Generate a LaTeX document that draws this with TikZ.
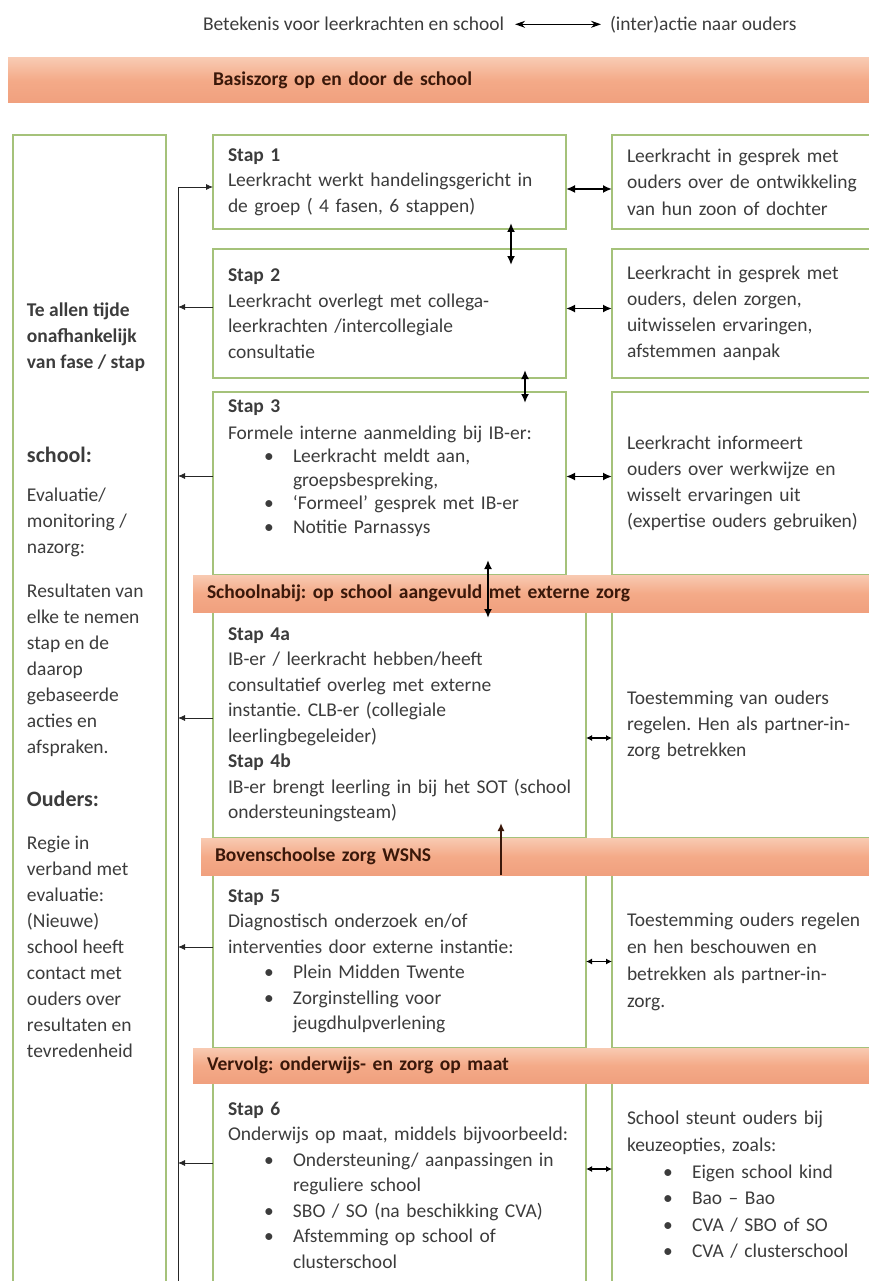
\documentclass[tikz,border=0pt]{standalone}
\usepackage{fontspec}
\setmainfont{Carlito}
\usepackage{xcolor}
\usetikzlibrary{positioning,arrows.meta}
\frenchspacing

\definecolor{groen}{RGB}{165,194,122}
\definecolor{bandlicht}{RGB}{248,202,178}
\definecolor{bandmidden}{RGB}{244,170,136}
\definecolor{banddonker}{RGB}{240,160,126}
\definecolor{bandtekst}{RGB}{58,24,10}
\definecolor{tekst}{RGB}{60,60,60}

\newcommand{\boxfont}{\fontsize{19.5pt}{25.5pt}\selectfont}
\newcommand{\itm}[1]{\hspace*{36pt}\makebox[29pt][l]{\textbullet}#1}
\newcommand{\itc}[1]{\hspace*{65pt}#1}

\begin{document}
\begin{tikzpicture}[
            x=1pt, y=-1pt,
            every node/.style={inner sep=0pt, outer sep=0pt, text=tekst},
            vak/.style={draw=groen, line width=1.3pt, anchor=north west, align=left, inner xsep=15pt, font=\boxfont},
            balk/.style={anchor=north west, align=left, top color=bandlicht, bottom color=banddonker, middle color=bandmidden, text=bandtekst, font=\boxfont\bfseries, inner xsep=14pt},
            dubbel/.style={{Latex[length=9pt,width=8pt]}-{Latex[length=9pt,width=8pt]}, line width=1.8pt},
            kort/.style={{Latex[length=6pt,width=6pt]}-{Latex[length=6pt,width=6pt]}, line width=1.5pt},
            terug/.style={-{Latex[length=7pt,width=6pt]}, line width=0.8pt, draw=black!85},
            omhoog/.style={-{Latex[length=8pt,width=7pt]}, line width=1.8pt, draw=bandtekst}
        ]
        \useasboundingbox (0,0) rectangle (869,1281);
        \clip (0,0) rectangle (869,1281);

        % Legenda
        \node[font=\boxfont, anchor=base west] (kop1) at (203,31) {Betekenis voor leerkrachten en school};
        \node[font=\boxfont, anchor=base west] (kop2) at (610,31) {(inter)actie naar ouders};
        \draw[{Stealth[length=10pt,width=7pt]}-{Stealth[length=10pt,width=7pt]}, line width=1.1pt, shorten <=11pt, shorten >=9pt] (kop1.east) -- (kop1.east -| kop2.west);

        % Basiszorg
        \node[balk, minimum width=880pt, minimum height=45pt, text width=470pt, inner xsep=205pt] (b1) at (8,58) {Basiszorg op en door de school};

        % Links
        \node[vak, minimum width=153pt, minimum height=1160pt] (links) at (13,135) {};
        \node[anchor=north west, align=left, font=\fontsize{19.5pt}{26pt}\selectfont] (linkstekst) at (27,303) {%
            \textbf{Te allen tijde}\\
            \textbf{onafhankelijk}\\
            \textbf{van fase / stap}\\[68pt]
            {\fontsize{22pt}{26pt}\selectfont\bfseries school:}\\[13pt]
            Evaluatie/\\
            monitoring /\\
            nazorg:\\[18pt]
            Resultaten van\\
            elke te nemen\\
            stap en de\\
            daarop\\
            gebaseerde\\
            acties en\\
            afspraken.\\[27pt]
            {\fontsize{22pt}{26pt}\selectfont\bfseries Ouders:}\\[17pt]
            Regie in\\
            verband met\\
            evaluatie:\\
            (Nieuwe)\\
            school heeft\\
            contact met\\
            ouders over\\
            resultaten en\\
            tevredenheid};

        % Stappen
        \node[vak, minimum width=353pt, minimum height=94pt, text width=323pt] (s1) at (213,135) {%
            \textbf{Stap 1}\\
            Leerkracht werkt handelingsgericht in\\
            de groep ( 4 fasen, 6 stappen)};
        \node[vak, minimum width=353pt, minimum height=129pt, text width=323pt, below=20pt of s1] (s2) {%
            \textbf{Stap 2}\\
            Leerkracht overlegt met collega-\\
            leerkrachten /intercollegiale\\
            consultatie};
        \node[vak, minimum width=353pt, minimum height=183pt, text width=323pt, below=14pt of s2, font=\fontsize{19.5pt}{23.5pt}\selectfont] (s3) {%
            \textbf{Stap 3}\\[3pt]
            Formele interne aanmelding bij IB-er:\\
            \itm{Leerkracht meldt aan,}\\
            \itc{groepsbespreking,}\\
            \itm{‘Formeel’ gesprek met IB-er}\\
            \itm{Notitie Parnassys}\rule[-34pt]{0pt}{0pt}};
        \node[vak, minimum width=373pt, minimum height=226pt, text width=343pt] (s4) at (213,612) {%
            \textbf{Stap 4a}\\
            IB-er / leerkracht hebben/heeft\\
            consultatief overleg met externe\\
            instantie. CLB-er (collegiale\\
            leerlingbegeleider)\\
            \textbf{Stap 4b}\\
            \mbox{IB-er brengt leerling in bij het SOT (school}\\
            ondersteuningsteam)};
        \node[vak, minimum width=373pt, minimum height=173pt, text width=343pt] (s5) at (213,875) {%
            \textbf{Stap 5}\\
            Diagnostisch onderzoek en/of\\
            interventies door externe instantie:\\
            \itm{Plein Midden Twente}\\
            \itm{Zorginstelling voor}\\
            \itc{jeugdhulpverlening}};
        \node[vak, minimum width=373pt, minimum height=204pt, text width=343pt] (s6) at (213,1083) {%
            \textbf{Stap 6}\\
            Onderwijs op maat, middels bijvoorbeeld:\\
            \itm{Ondersteuning/ aanpassingen in}\\
            \itc{reguliere school}\\
            \itm{SBO / SO (na beschikking CVA)}\\
            \itm{Afstemming op school of}\\
            \itc{clusterschool}};

        % Ouders
        \node[vak, minimum width=270pt, minimum height=94pt, text width=240pt, right=46pt of s1, font=\fontsize{19.5pt}{26.5pt}\selectfont] (r1) {%
            Leerkracht in gesprek met\\
            ouders over de ontwikkeling\\
            van hun zoon of dochter};
        \node[vak, minimum width=270pt, minimum height=129pt, text width=240pt, right=46pt of s2, font=\fontsize{19.5pt}{26pt}\selectfont] (r2) {%
            Leerkracht in gesprek met\\
            ouders, delen zorgen,\\
            uitwisselen ervaringen,\\
            afstemmen aanpak};
        \node[vak, minimum width=270pt, minimum height=183pt, text width=240pt, right=46pt of s3, font=\fontsize{19.5pt}{26pt}\selectfont] (r3) {%
            Leerkracht informeert\\
            ouders over werkwijze en\\
            wisselt ervaringen uit\\
            (expertise ouders gebruiken)};
        \node[vak, minimum width=270pt, minimum height=226pt, text width=240pt, right=26pt of s4, font=\fontsize{19.5pt}{26pt}\selectfont] (r4) {%
            Toestemming van ouders\\
            regelen. Hen als partner-in-\\
            zorg betrekken};
        \node[vak, minimum width=270pt, minimum height=173pt, text width=240pt, right=26pt of s5, font=\fontsize{19.5pt}{27pt}\selectfont] (r5) {%
            Toestemming ouders regelen\\
            en hen beschouwen en\\
            betrekken als partner-in-\\
            zorg.};
        \node[vak, minimum width=270pt, minimum height=204pt, text width=240pt, right=26pt of s6, font=\fontsize{19.5pt}{26.6pt}\selectfont] (r6) {%
            School steunt ouders bij\\
            keuzeopties, zoals:\\
            \itm{Eigen school kind}\\
            \itm{Bao – Bao}\\
            \itm{CVA / SBO of SO}\\
            \itm{CVA / clusterschool}};

        % Balken
        \node[balk, minimum width=700pt, minimum height=37pt, text width=672pt] (b2) at (193,575) {Schoolnabij: op school aangevuld met externe zorg};
        \node[balk, minimum width=700pt, minimum height=37pt, text width=672pt] (b3) at (201,838) {Bovenschoolse zorg WSNS};
        \node[balk, minimum width=700pt, minimum height=35pt, text width=672pt] (b4) at (193,1048) {Vervolg: onderwijs- en zorg op maat};

        % Terugkoppeling
        \coordinate (fb1) at (178,187);
        \coordinate (fb2) at (178,307);
        \coordinate (fb3) at (178,476);
        \coordinate (fb4) at (178,718);
        \coordinate (fb5) at (178,947);
        \coordinate (fb6) at (178,1163);
        \coordinate (fbeind) at (178,1295);
        \draw[terug] (fbeind) |- (s1.west |- fb1);
        \draw[terug] (s2.west |- fb2) -- (fb2);
        \draw[terug] (s3.west |- fb3) -- (fb3);
        \draw[terug] (s4.west |- fb4) -- (fb4);
        \draw[terug] (s5.west |- fb5) -- (fb5);
        \draw[terug] (s6.west |- fb6) -- (fb6);

        % Pijlen school - ouders
        \draw[dubbel] ([yshift=-7pt]s1.east) -- ([yshift=-7pt]r1.west);
        \draw[dubbel] ([yshift=5pt]s2.east) -- ([yshift=5pt]r2.west);
        \draw[dubbel] ([yshift=7pt]s3.east) -- ([yshift=7pt]r3.west);
        \draw[kort] ([yshift=-13pt]s4.east) -- ([yshift=-13pt]r4.west);
        \draw[kort] (s5.east) -- (r5.west);
        \draw[kort] ([yshift=16pt]s6.east) -- ([yshift=16pt]r6.west);

        % Pijlen tussen stappen
        \coordinate (v12) at (511,0);
        \coordinate (v23) at (525,0);
        \coordinate (v34) at (488,0);
        \coordinate (v45) at (501,0);
        \draw[dubbel, shorten <=-6pt, shorten >=-16pt] (s1.south -| v12) -- (s2.north -| v12);
        \draw[dubbel, shorten <=-8pt, shorten >=-11pt] (s2.south -| v23) -- (s3.north -| v23);
        \draw[dubbel, shorten <=-15pt, shorten >=-6pt] (s3.south -| v34) -- (s4.north -| v34);
        \draw[omhoog, shorten >=-15pt] (b3.south -| v45) -- (s4.south -| v45);
\end{tikzpicture}
\end{document}
